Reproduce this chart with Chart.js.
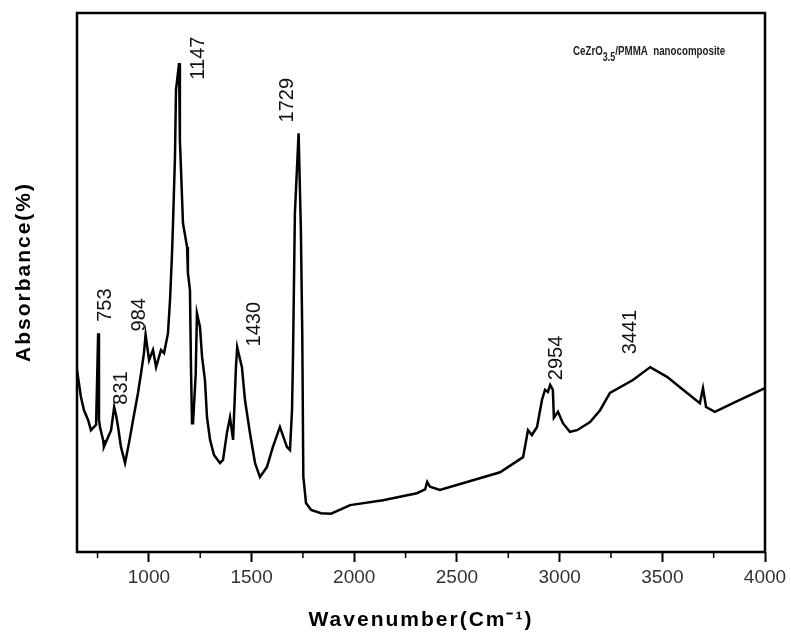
<!DOCTYPE html>
<html>
<head>
<meta charset="utf-8">
<script src="https://cdn.jsdelivr.net/npm/chart.js@4.4.1/dist/chart.umd.min.js"></script>
<style>
  html, body { margin: 0; padding: 0; background: #fff; }
  #wrap { width: 791px; height: 635px; position: relative; }
</style>
</head>
<body>
<div id="wrap"><canvas id="grafico"></canvas></div>
<script>
// spectrum
const wavenumber = [
  650, 669, 684, 704, 718, 733, 743, 753, 757, 762, 777, 781, 801, 816, 831, 840, 850, 864, 884, 903,
  923, 947, 962, 976, 984, 1001, 1020, 1035, 1059, 1074, 1093, 1103, 1112, 1117, 1127, 1132, 1147, 1151, 1156, 1166,
  1186, 1190, 1200, 1205, 1210, 1215, 1228, 1234, 1249, 1259, 1273, 1283, 1298, 1317, 1346, 1361, 1380, 1395, 1410, 1424,
  1430, 1453, 1468, 1492, 1517, 1541, 1575, 1604, 1638, 1672, 1687, 1697, 1702, 1711, 1729, 1740, 1747, 1752, 1765, 1790,
  1838, 1887, 1980, 2140, 2305, 2345, 2355, 2369, 2417, 2549, 2710, 2822, 2846, 2865, 2890, 2914, 2929, 2943, 2954, 2967,
  2972, 2992, 3016, 3050, 3085, 3148, 3197, 3245, 3357, 3441, 3523, 3601, 3683, 3698, 3713, 3756, 3844, 3927, 4000
];
const absorbance = [
  33.8, 28.8, 26.3, 24.5, 22.6, 23.2, 23.6, 40.6, 24.5, 23.2, 20.8, 19.5, 21.3, 22.6, 26.9, 25.4, 23.2, 19.5, 16.5, 20.2,
  24.5, 29.5, 33.2, 36.9, 40.3, 35.6, 37.5, 34.3, 37.5, 36.9, 40.6, 46.8, 54.7, 60.3, 73.3, 85.7, 90.7, 76.4, 71.4, 61.0,
  56.6, 51.8, 48.6, 34.3, 23.9, 23.9, 33.0, 44.3, 41.7, 36.2, 31.9, 25.0, 20.8, 18.0, 16.5, 17.1, 22.1, 25.0, 20.8, 34.3,
  38.0, 34.3, 28.2, 22.1, 16.5, 13.9, 15.8, 19.5, 23.2, 19.5, 18.9, 26.3, 36.9, 62.9, 77.7, 60.0, 40.0, 14.0, 9.1, 7.8,
  7.2, 7.1, 8.7, 9.6, 10.9, 11.6, 13.0, 12.1, 11.5, 13.0, 14.8, 17.6, 22.6, 21.7, 23.2, 28.2, 30.1, 29.7, 31.0, 30.1,
  24.9, 26.0, 23.9, 22.3, 22.6, 24.1, 26.3, 29.5, 31.9, 34.3, 32.5, 30.1, 27.6, 30.4, 26.9, 26.0, 27.6, 29.1, 30.4
];

const xTicks = [1000, 1500, 2000, 2500, 3000, 3500, 4000];
const xMinorTicks = [750, 1250, 1750, 2250, 2750, 3250, 3750];

// picos marcados
const peakWn = [753, 831, 984, 1147, 1430, 1729, 2954, 3441];
const peakText = ['753', '831', '984', '1147', '1430', '1729', '2954', '3441'];

// deslocamento (px) do centro do texto em relacao ao pico
const labelOffset = [[7, -28], [7, -19], [-6, -20], [19, -5], [17, -23], [-11, -33], [6, -27], [-20, -35]];

const pontos = wavenumber.map((w, i) => ({ x: w, y: absorbance[i] }));

const extras = {
  id: 'extras',
  afterDraw(chart) {
    const ctx = chart.ctx;
    const a = chart.chartArea;
    const sx = chart.scales.x, sy = chart.scales.y;
    ctx.save();

    // moldura
    ctx.strokeStyle = '#000';
    ctx.lineWidth = 2.5;
    ctx.strokeRect(a.left, a.top, a.right - a.left, a.bottom - a.top);

    // ticks menores
    ctx.lineWidth = 1.5;
    xMinorTicks.forEach(v => {
      const px = sx.getPixelForValue(v);
      ctx.beginPath();
      ctx.moveTo(px, a.bottom);
      ctx.lineTo(px, a.bottom + 6);
      ctx.stroke();
    });

    // rotulos dos picos
    ctx.fillStyle = '#111';
    ctx.font = '20px "Liberation Sans", Arial, sans-serif';
    ctx.textAlign = 'center';
    ctx.textBaseline = 'middle';
    peakWn.forEach((w, i) => {
      const idx = wavenumber.indexOf(w);
      const px = sx.getPixelForValue(w) + labelOffset[i][0];
      const py = sy.getPixelForValue(absorbance[idx]) + labelOffset[i][1];
      ctx.save();
      ctx.translate(px, py);
      ctx.rotate(-Math.PI / 2);
      ctx.fillText(peakText[i], 0, 0);
      ctx.restore();
    });

    // titulos dos eixos
    ctx.fillStyle = '#000';
    ctx.font = 'bold 21px "Liberation Sans", Arial, sans-serif';
    ctx.letterSpacing = '2px';
    ctx.textAlign = 'center';
    ctx.textBaseline = 'middle';
    ctx.fillText('Wavenumber(Cm\u207B\u00B9)', (a.left + a.right) / 2, 620);
    ctx.save();
    ctx.translate(24, 272);
    ctx.rotate(-Math.PI / 2);
    ctx.fillText('Absorbance(%)', 0, 0);
    ctx.restore();
    ctx.letterSpacing = '0px';

    // legenda da amostra
    ctx.save();
    ctx.translate(573, 55);
    ctx.scale(0.75, 1);
    ctx.textAlign = 'left';
    ctx.textBaseline = 'alphabetic';
    ctx.fillStyle = '#222';
    ctx.font = 'bold 13px "Liberation Sans", Arial, sans-serif';
    let x = 0;
    ctx.fillText('CeZrO', x, 0);
    x += ctx.measureText('CeZrO').width;
    ctx.font = 'bold 12px "Liberation Sans", Arial, sans-serif';
    ctx.fillText('3.5', x, 6);
    x += ctx.measureText('3.5').width;
    ctx.font = 'bold 13px "Liberation Sans", Arial, sans-serif';
    ctx.fillText('/PMMA  nanocomposite', x, 0);
    ctx.restore();

    ctx.restore();
  }
};

new Chart(document.getElementById('grafico'), {
  type: 'line',
  data: {
    datasets: [{
      data: pontos,
      borderColor: '#000',
      borderWidth: 2.5,
      pointRadius: 0,
      tension: 0,
      fill: false
    }]
  },
  options: {
    responsive: true,
    maintainAspectRatio: false,
    animation: false,
    layout: { padding: { left: 77, right: 26, top: 13, bottom: 0 } },
    plugins: { legend: { display: false }, tooltip: { enabled: false } },
    scales: {
      x: {
        type: 'linear',
        min: 650,
        max: 4000,
        afterBuildTicks: s => { s.ticks = xTicks.map(v => ({ value: v })); },
        afterFit: s => { s.height = 83; },
        ticks: {
          color: '#333',
          font: { family: '"Liberation Sans", Arial, sans-serif', size: 19 },
          padding: 4,
          maxRotation: 0,
          autoSkip: false,
          callback: v => String(v)
        },
        grid: { drawOnChartArea: false, tickLength: 10, tickWidth: 2, tickColor: '#000' },
        border: { display: false }
      },
      y: {
        display: false,
        min: 0,
        max: 100
      }
    }
  },
  plugins: [extras]
});
</script>
</body>
</html>
